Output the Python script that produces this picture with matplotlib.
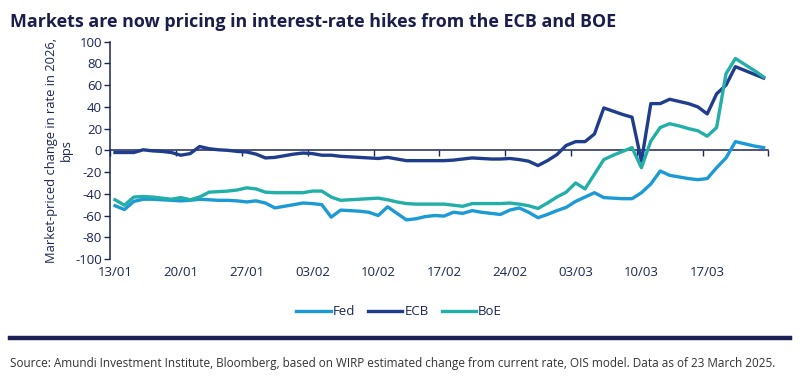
import matplotlib.pyplot as plt
import numpy as np

# days since 13/01/2025 (calendar days, data to 23/03/2025)
days = np.arange(70)

fed = [-51, -54.5, -47, -45, -45, -45.5, -46, -46.5, -46, -45,
       -45.5, -46, -46, -46.5, -47.5, -46.5, -48.5, -53, -51.5, -50,
       -48.5, -49, -50, -61.5, -55, -55.5, -56, -57, -60, -52,
       -58, -64, -63, -61, -60, -60.5, -57, -58, -55.5, -57,
       -58, -59, -55, -53, -57, -62, -59, -55.5, -52.5, -47,
       -43, -39, -43.5, -44, -44.5, -44.5, -39, -31, -19, -23,
       -24.5, -26, -27, -26, -16, -7, 8, 6, 4, 2.5]

ecb = [-2, -2, -2, 0.5, -0.5, -1, -2, -4.5, -3, 3.5,
       1.5, 0.5, 0, -1, -1.5, -3.5, -7, -6.5, -5, -3.5,
       -2.5, -3, -4.5, -4.5, -5.5, -6, -6.5, -7, -7.5, -6.5,
       -8, -9.5, -9.5, -9.5, -9.5, -9.5, -9, -8, -7, -7.5,
       -8, -8, -7.5, -8.5, -10, -14, -9.5, -4, 4.5, 8,
       8, 15, 39, 36, 33, 30.5, -10, 43, 43, 47,
       45, 43, 40, 33.5, 52, 60, 77, 73.5, 70, 66.5]

boe = [-45.5, -50.5, -43, -42.5, -43, -44, -45, -43.5, -45.5, -43,
       -38.5, -38, -37.5, -36.5, -34.5, -35.5, -38.5, -39, -39, -39,
       -39, -37.5, -37.5, -43, -46, -45.5, -45, -44.5, -44, -45.5,
       -47.5, -49, -49.5, -49.5, -49.5, -49.5, -50.5, -51.5, -49, -49,
       -49, -49, -48.5, -49.5, -51, -53.5, -48.5, -43, -38.5, -30,
       -35.5, -22, -8.5, -4.5, -1, 2.5, -16, 8.5, 21, 24.5,
       22.5, 20, 18, 13, 21, 70.5, 84.5, 79, 73.5, 67.5]

tick_days = [0, 7, 14, 21, 28, 35, 42, 49, 56, 63]
tick_labels = ['13/01', '20/01', '27/01', '03/02', '10/02', '17/02',
               '24/02', '03/03', '10/03', '17/03']

navy = '#1c2557'
c_fed = '#1b9ad6'
c_ecb = '#1f3d8c'
c_boe = '#22afa8'

plt.rcParams['font.family'] = ['Open Sans', 'DejaVu Sans']
plt.rcParams['axes.unicode_minus'] = False

fig = plt.figure(figsize=(8, 3.77), dpi=100)
ax = fig.add_axes([0.1379, 0.313, 0.8225, 0.5765])

ax.plot(days, fed, color=c_fed, lw=2.4, label='Fed')
ax.plot(days, ecb, color=c_ecb, lw=2.4, label='ECB')
ax.plot(days, boe, color=c_boe, lw=2.4, label='BoE')

ax.set_xlim(-0.5, 69.5)
ax.set_ylim(-100, 100)
ax.set_yticks(np.arange(-100, 101, 20))

# x axis line sits at zero, tick marks at week boundaries
ax.spines['bottom'].set_position(('data', 0))
ax.spines['bottom'].set_color(navy)
ax.spines['bottom'].set_linewidth(1.1)
ax.spines['bottom'].set_zorder(1)
ax.spines['left'].set_color(navy)
ax.spines['left'].set_linewidth(1.1)
ax.spines['top'].set_visible(False)
ax.spines['right'].set_visible(False)
ax.set_xticks(np.arange(-0.5, 70, 7))
ax.set_xticklabels([])
ax.tick_params(axis='x', direction='out', length=4, width=1, color=navy)
ax.tick_params(axis='y', direction='out', length=4, width=1, color=navy,
               labelcolor=navy, labelsize=9.5, pad=2)

# date labels under the plot
sec = ax.secondary_xaxis('bottom')
sec.set_xticks(tick_days)
sec.set_xticklabels(tick_labels)
sec.tick_params(length=0, labelcolor=navy, labelsize=9.5, pad=5)
sec.spines['bottom'].set_visible(False)

ax.set_ylabel('Market-priced change in rate in 2026,\nbps', color=navy,
              fontsize=9.3, labelpad=2, linespacing=1.1)

fig.text(0.013, 0.965, 'Markets are now pricing in interest-rate hikes from the ECB and BOE',
         fontsize=12.9, fontweight='bold', color='#1b1d4a', va='top', ha='left')

fig.legend(loc='center', bbox_to_anchor=(0.499, 0.173), ncol=3, frameon=False,
           fontsize=9.5, handlelength=2.6, handletextpad=0.15, columnspacing=1.0,
           labelcolor=navy)

fig.add_artist(plt.Line2D([0.013, 0.987], [0.103, 0.103], color='#1b2152', lw=3.2))

fig.text(0.013, 0.037, 'Source: Amundi Investment Institute, Bloomberg, based on WIRP estimated '
         'change from current rate, OIS model. Data as of 23 March 2025.',
         fontsize=8.45, color='#333333', va='center', ha='left')

fig.savefig('out.png', dpi=100)
